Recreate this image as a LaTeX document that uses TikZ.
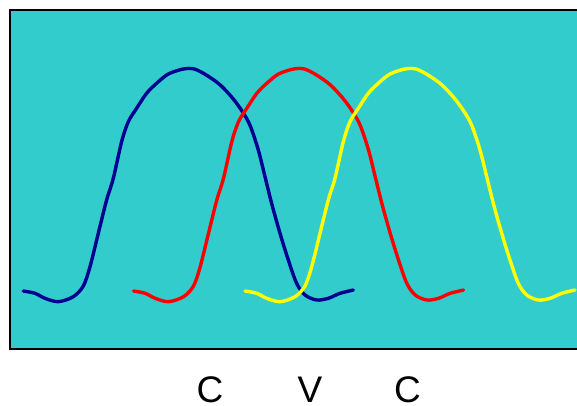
\documentclass[tikz,border=0pt]{standalone}
\usepackage{fontspec}
\setmainfont{Liberation Sans}
\definecolor{bgteal}{HTML}{33CCCC}
\definecolor{wavenavy}{HTML}{000090}
\definecolor{wavered}{HTML}{FF0000}
\definecolor{waveyellow}{HTML}{FFFF00}
\begin{document}
\begin{tikzpicture}[x=1pt,y=-1pt,
  wave/.style={line width=3.4pt,line join=round,line cap=round},
  lbl/.style={font=\fontsize{37}{40}\selectfont,anchor=base,inner sep=0pt}]
\useasboundingbox (0,0) rectangle (577,405);
\fill[bgteal] (10,10) rectangle (580,349);
\draw[line width=1.4pt,black] (580,10) -- (10,10) -- (10,349) -- (580,349);
\def\wavepath{plot[smooth,tension=0.5] coordinates {
 (0,1) (11.7,3.3) (21.7,8.3) (35,11.7) (50,6.7) (60,-4) (66.7,-23.3) (75,-56.7)
 (83.3,-90) (90,-111.7) (98.3,-148.3) (105,-168.3) (113.3,-181.7) (123.3,-196.7)
 (133.3,-206.7) (145,-216) (160,-221) (171,-221) (183,-215) (197,-205)
 (210,-191) (220,-177) (227,-164) (235,-140) (241.7,-113.3) (248.3,-86.7)
 (256.7,-56.7) (265,-30) (273.3,-6.7) (281.7,5) (293.3,10) (305,8.3) (316.7,3.3) (330,0)}}
\begin{scope}[shift={(23.3,290)}]
\draw[wave,wavenavy] \wavepath;
\end{scope}
\begin{scope}[shift={(133.5,290)}]
\draw[wave,wavered] \wavepath;
\end{scope}
\begin{scope}[shift={(245,290)}]
\draw[wave,waveyellow] \wavepath;
\end{scope}
\node[lbl] (c1) at (210,402) {C};
\node[lbl] (v) at (310,402) {V};
\node[lbl] (c2) at (407.5,402) {C};
\end{tikzpicture}
\end{document}
